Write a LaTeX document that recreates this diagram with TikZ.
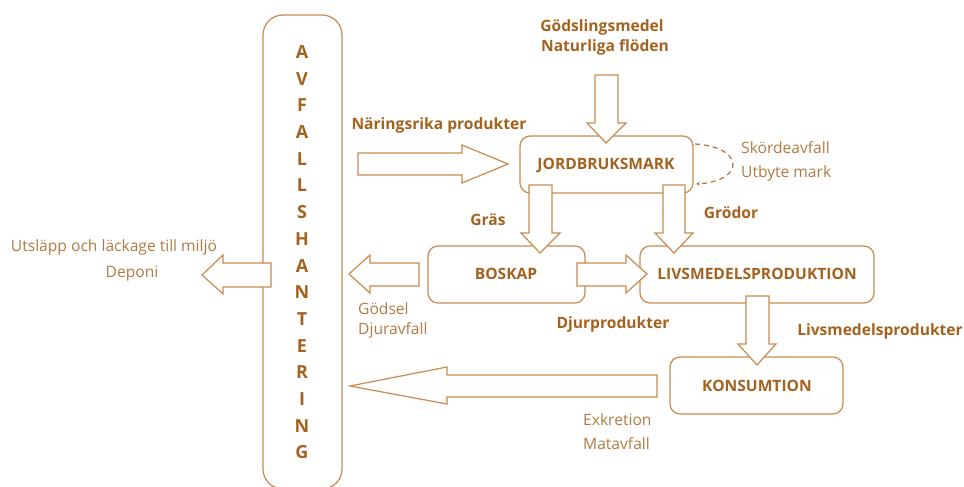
\documentclass[tikz,border=0pt]{standalone}
\usepackage{fontspec}
\setmainfont{Open Sans}
\usetikzlibrary{arrows.meta}
\definecolor{edge}{HTML}{C88A4E}
\definecolor{boldtxt}{HTML}{A5621F}
\definecolor{lighttxt}{HTML}{B27A42}
\tikzset{
  box/.style={draw=edge, line width=1.2pt, rounded corners=10pt, fill=white},
  barrow/.style={draw=edge, line width=1.2pt, fill=white, line join=miter},
  btxt/.style={text=boldtxt, font=\fontsize{15.6}{18}\selectfont\bfseries, inner sep=0pt},
  ltxt/.style={text=lighttxt, font=\fontsize{15.6}{18}\selectfont, inner sep=0pt},
  vletter/.style={text=boldtxt, font=\fontsize{18}{20}\selectfont\bfseries, inner sep=0pt},
}
\begin{document}
\begin{tikzpicture}[x=1pt,y=-1pt]
\useasboundingbox (0,0) rectangle (964,487);
% AVFALLSHANTERING column
\draw[box, rounded corners=20pt] (263,15) rectangle (342,489);
\foreach \l [count=\i from 0] in {A,V,F,A,L,L,S,H,A,N,T,E,R,I,N,G}{
  \node[vletter] (v\i) at (302,{52+\i*26.7}) {\l};
}
% boxes
\draw[box] (520,136) rectangle (693,193);
\node[btxt] (jord) at (606,165) {JORDBRUKSMARK};
\draw[box] (428,246) rectangle (585,303);
\node[btxt] (bos) at (506,274) {BOSKAP};
\draw[box] (640,246) rectangle (874,303);
\node[btxt] (livs) at (757,274) {LIVSMEDELSPRODUKTION};
\draw[box] (670,357) rectangle (843,414);
\node[btxt] (kons) at (757,386) {KONSUMTION};
% dashed loop
\draw[draw=edge!90!black, line width=1.3pt, dash pattern=on 5pt off 4pt, -{Stealth[length=4pt,width=4pt]}] (695,144) .. controls (745,147) and (745,181) .. (696,184);
% block arrows
\draw[barrow] (358,153)--(462,153)--(462,145)--(508,164)--(462,183)--(462,175)--(358,175)--cycle;
\draw[barrow] (595,75)--(618,75)--(618,123)--(626,123)--(606,143)--(587,123)--(595,123)--cycle;
\draw[barrow] (529,185)--(552,185)--(552,233)--(560,233)--(540,253)--(521,233)--(529,233)--cycle;
\draw[barrow] (663,185)--(685,185)--(685,233)--(693,233)--(674,253)--(655,233)--(663,233)--cycle;
\draw[barrow] (577,263)--(626,263)--(626,255)--(647,274)--(626,293)--(626,286)--(577,286)--cycle;
\draw[barrow] (746,296)--(769,296)--(769,344)--(776,344)--(757,365)--(738,344)--(746,344)--cycle;
\draw[barrow] (657,375)--(447,375)--(447,367)--(350,386)--(447,404)--(447,397)--(657,397)--cycle;
\draw[barrow] (419,263)--(370,263)--(370,255)--(349,274)--(370,293)--(370,286)--(419,286)--cycle;
\draw[barrow] (271,263)--(223,263)--(223,255)--(202,275)--(223,294)--(223,287)--(271,287)--cycle;
% labels
\node[btxt] (gods) at (602,27) {Gödslingsmedel};
\node[btxt] (natur) at (605,47) {Naturliga flöden};
\node[btxt] (narr) at (439,125) {Näringsrika produkter};
\node[btxt] (gras) at (488,220) {Gräs};
\node[btxt] (grod) at (731,213) {Grödor};
\node[btxt] (djur) at (613,324) {Djurprodukter};
\node[btxt] (livp) at (880,331) {Livsmedelsprodukter};
\node[ltxt, anchor=west] (skord) at (741,148) {Skördeavfall};
\node[ltxt, anchor=west] (utbyte) at (741,173) {Utbyte mark};
\node[ltxt, anchor=west] (godsel) at (358,309) {Gödsel};
\node[ltxt, anchor=west] (djurav) at (358,330) {Djuravfall};
\node[ltxt, anchor=west] (exkr) at (583,420) {Exkretion};
\node[ltxt, anchor=west] (matav) at (583,444) {Matavfall};
\node[ltxt] (utsl) at (114,247) {Utsläpp och läckage till miljö};
\node[ltxt] (depo) at (132,274) {Deponi};
\end{tikzpicture}
\end{document}
